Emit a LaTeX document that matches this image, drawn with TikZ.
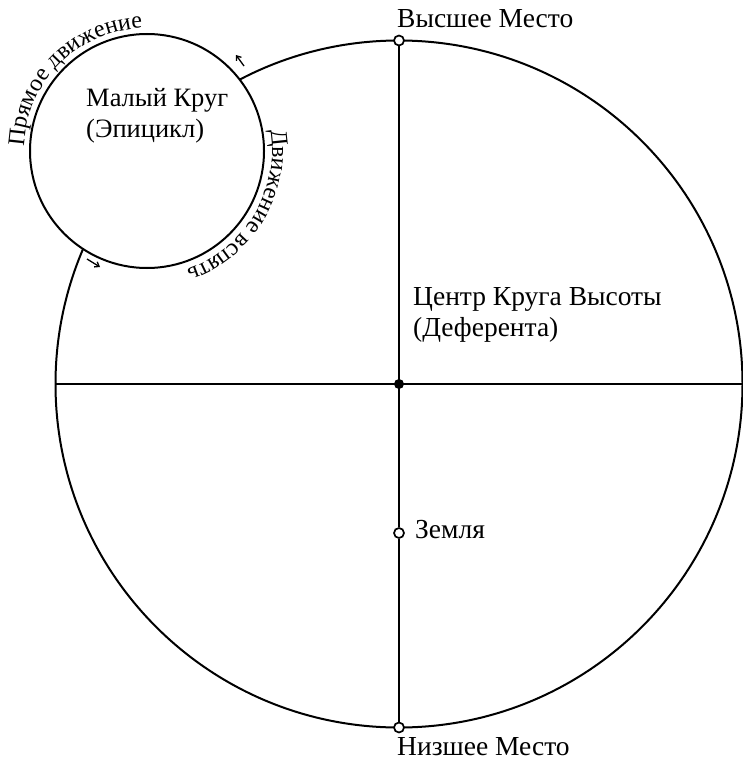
\documentclass[tikz,border=0pt]{standalone}
\usepackage{fontspec}
\setmainfont{Liberation Serif}
\usetikzlibrary{decorations.text,arrows.meta}
\begin{document}
\begin{tikzpicture}[x=1pt,y=-1pt,
  line/.style={line width=2pt},
  opendot/.style={circle,draw,line width=1.7pt,fill=white,inner sep=0pt,minimum size=10pt},
  fulldot/.style={circle,fill=black,inner sep=0pt,minimum size=10pt},
  lbl/.style={font=\fontsize{27.5}{31}\selectfont,inner sep=0pt,anchor=base west,align=left},
  motion/.style={line width=1.3pt,-{Straight Barb[length=4pt,width=6pt]}}]
\useasboundingbox (0,0) rectangle (742,760);
% deferent
\coordinate (C) at (399,384);
\draw[line] (C) circle[radius=343.5];
\coordinate (L) at (55.5,384);
\coordinate (R) at (742.5,384);
\draw[line] (L) -- (R);
\node[opendot] (top) at (399,40.5) {};
\node[opendot] (bot) at (399,727.5) {};
\node[opendot] (earth) at (399,533) {};
\draw[line] (top) -- (earth) -- (bot);
\node[fulldot] (center) at (C) {};
% epicycle
\coordinate (E) at (147,151);
\draw[line,fill=white] (E) circle[radius=117];
% labels
\node[lbl] (hi) at (397,28) {Высшее Место};
\node[lbl] (lo) at (397,755) {Низшее Место};
\node[lbl] (ctr) at (413,336) {Центр Круга Высоты\\(Деферента)};
\node[lbl] (ea) at (415,538) {Земля};
\node[lbl,font=\fontsize{26.5}{31}\selectfont] (epi) at (86,137) {Малый Круг\\(Эпицикл)};
% curved texts
\path[decorate,decoration={text along path,text align=center,
  text={|\fontsize{24}{24}\selectfont|Прямое движение}}]
  (E) ++(-182:123) arc[start angle=-182,end angle=-88,radius=123];
\path[decorate,decoration={text along path,text align=center,
  text={|\fontsize{24}{24}\selectfont|Движение вспять}}]
  (E) ++(-13:125) arc[start angle=-13,end angle=75,radius=125];
% motion arrows
\coordinate (a1) at (244,66);
\coordinate (a2) at (236,55);
\draw[motion] (a1) -- (a2);
\coordinate (b1) at (87,259);
\coordinate (b2) at (100,267);
\draw[motion] (b1) -- (b2);
\end{tikzpicture}
\end{document}
